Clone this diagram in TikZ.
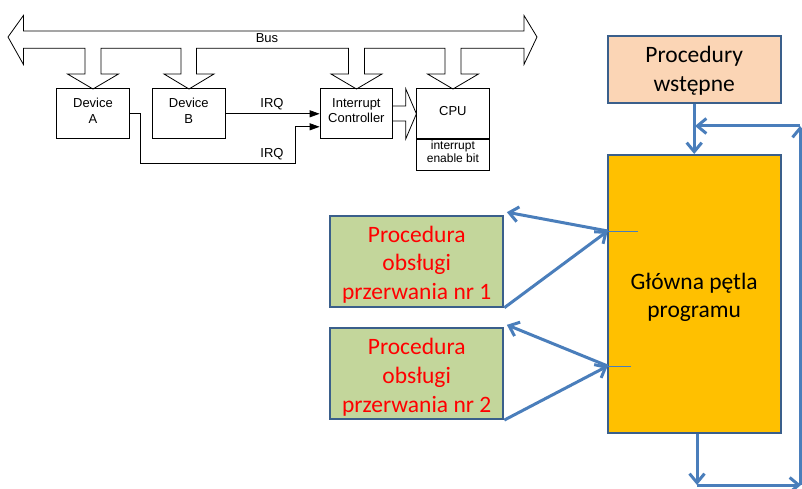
\documentclass[tikz,border=0pt]{standalone}
\usepackage{fontspec}
\setmainfont{Liberation Sans}
\newfontfamily\calfont{Carlito}
\usetikzlibrary{arrows.meta}
\definecolor{bordblue}{HTML}{3A5F8B}
\definecolor{arrblue}{HTML}{4A7EBB}
\definecolor{peach}{HTML}{FBD5B5}
\definecolor{olivegr}{HTML}{C3D69B}
\definecolor{gold}{HTML}{FFC000}
\tikzset{
  devbox/.style={draw=black, line width=0.8pt, minimum width=72.4pt, minimum height=50pt, inner sep=0pt},
  smallbox/.style={draw=black, line width=0.8pt, minimum width=72.2pt, minimum height=30.7pt, inner sep=0pt},
  devtext/.style={inner sep=0pt, align=center, font=\fontsize{13}{15.5}\selectfont, yshift=3pt},
  smalltext/.style={inner sep=0pt, align=center, font=\fontsize{12}{13}\selectfont, yshift=3pt},
  bigbox/.style={draw=bordblue, line width=2pt, inner sep=0pt},
  bigtext/.style={inner sep=0pt, align=center, font=\calfont\fontsize{23.5}{28.7}\selectfont, yshift=-3.5pt},
  blue arrow/.style={draw=arrblue, line width=3pt, -{Straight Barb[length=9pt,width=15pt]}},
  irq/.style={draw=black, line width=0.8pt, -{Triangle[length=10pt,width=7pt]}},
  lbl/.style={font=\fontsize{13}{15.5}\selectfont, inner sep=0pt}
}
\begin{document}
\begin{tikzpicture}[x=1pt,y=-1pt]
\useasboundingbox (0,0) rectangle (802,489);
% ---- bus outline
\draw[line width=0.8pt, line join=miter]
 (8,37) -- (23.4,15.5) -- (23.4,31) -- (524,31) -- (524,15.5) -- (537,37) -- (524,64.4) -- (524,48.2)
 -- (461,48.2) -- (461,74) -- (478.5,74) -- (453,89) -- (427.5,74) -- (445,74) -- (445,48.2)
 -- (364.5,48.2) -- (364.5,74) -- (382,74) -- (356.5,89) -- (331,74) -- (348.5,74) -- (348.5,48.2)
 -- (196.5,48.2) -- (196.5,74) -- (214,74) -- (189,89) -- (164,74) -- (181,74) -- (181,48.2)
 -- (101,48.2) -- (101,74) -- (118.5,74) -- (93,89) -- (67.5,74) -- (85,74) -- (85,48.2)
 -- (23.4,48.2) -- (23.4,64.4) -- cycle;
\node[lbl] (bus) at (267,38.5) {Bus};
% ---- boxes
\node[devbox] (A) at (93,113.8) {};
\node[devtext] (At) at (A.center) {Device\\A};
\node[devbox] (B) at (188.8,113.8) {};
\node[devtext] (Bt) at (B.center) {Device\\B};
\node[devbox, minimum width=72.7pt] (IC) at (356.4,113.8) {};
\node[devtext] (ICt) at (IC.center) {Interrupt\\Controller};
\node[devbox, minimum width=72.2pt] (CPU) at (452.9,113.8) {};
\node[devtext] (CPUt) at (CPU.center) {CPU};
\node[smallbox, anchor=north] (IEB) at (CPU.south) {};
\node[smalltext] (IEBt) at (IEB.center) {interrupt\\enable bit};
% ---- IC -> CPU hollow arrow
\draw[line width=0.8pt, line join=miter]
 (IC.east |- 0,106) -- (405.8,106) -- (405.8,88.9) -- (CPU.west) -- (405.8,138.8) -- (405.8,121) -- (IC.east |- 0,121);
% ---- IRQ lines
\draw[irq] (B.east) -- (IC.west);
\node[lbl] (irq1) at (272,104) {IRQ};
\draw[irq] (A.east) -- (140.5,113.8) -- (140.5,163.6) -- (295.6,163.6) -- (295.6,126.8) -- (IC.west |- 0,126.8);
\node[lbl] (irq2) at (272,154.5) {IRQ};
% ---- right part
\node[bigbox, fill=peach, minimum width=173pt, minimum height=67.6pt] (proc) at (694.2,69.5) {};
\node[bigtext, yshift=2pt] (proct) at (proc.center) {Procedury\\wstępne};
\node[bigbox, fill=gold, minimum width=173pt, minimum height=278pt] (main) at (694.2,294) {};
\node[bigtext] (maint) at (main.center) {Główna pętla\\programu};
\node[bigbox, fill=olivegr, minimum width=173.3pt, minimum height=91pt] (g1) at (416.7,261.2) {};
\node[bigtext, text=red] (g1t) at (g1.center) {Procedura\\obsługi\\przerwania nr 1};
\node[bigbox, fill=olivegr, minimum width=173.3pt, minimum height=90.7pt] (g2) at (416.7,373.7) {};
\node[bigtext, text=red] (g2t) at (g2.center) {Procedura\\obsługi\\przerwania nr 2};
\coordinate (m1) at (607.7,231);
\coordinate (m2) at (607.7,366);
\draw[arrblue, line width=0.8pt] (m1) -- (637.7,231);
\draw[arrblue, line width=0.8pt] (m2) -- (630.7,366);
\draw[blue arrow] (m1) -- ([shift={(2.5,-2.5)}]g1.north east);
\draw[blue arrow] (g1.south east) -- (m1);
\draw[blue arrow] (m2) -- ([shift={(2.5,-2.5)}]g2.north east);
\draw[blue arrow] (g2.south east) -- (m2);
\coordinate (b1) at (697,485);
\coordinate (b2) at (801,485);
\coordinate (t2) at (800,126);
\coordinate (t1) at (695,126);
\draw[blue arrow] (proc.south) -- (main.north);
\draw[blue arrow] (main.south -| b1) -- (b1);
\draw[blue arrow] (b1) -- (b2);
\draw[blue arrow] (t2 |- b1) -- (t2);
\draw[blue arrow] (t2) -- (t1);
\end{tikzpicture}
\end{document}
